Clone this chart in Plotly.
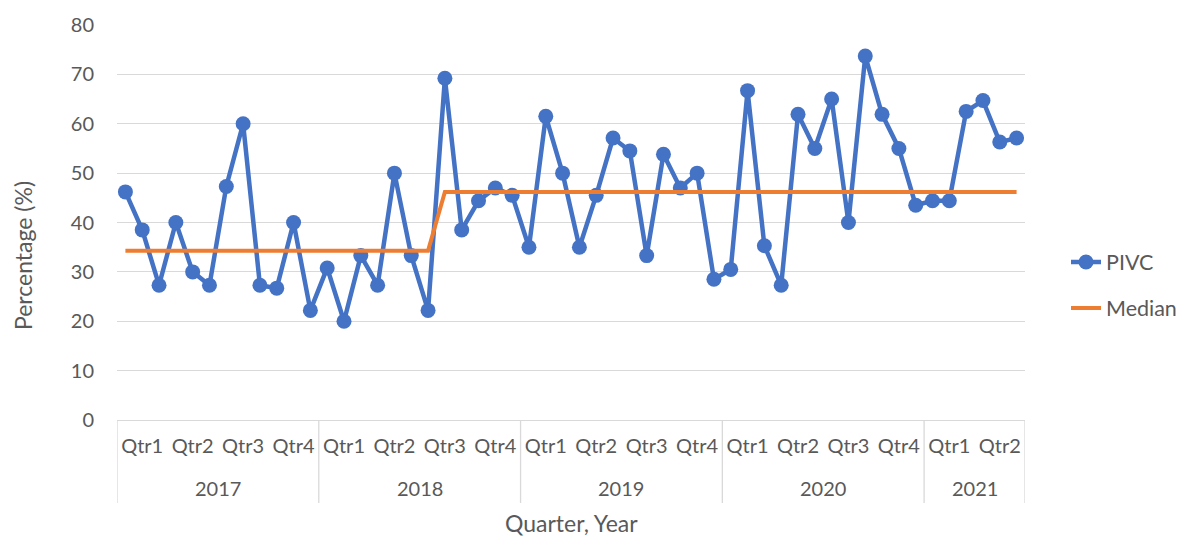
import plotly.graph_objects as go

# ---- data ----
years = ["2017", "2018", "2019", "2020", "2021"]
quarters = ["Qtr1", "Qtr2", "Qtr3", "Qtr4"]
quarters_per_year = [4, 4, 4, 4, 2]
pivc = [
    46.2, 38.5, 27.3, 40.0, 30.0, 27.3, 47.3, 60.0, 27.3, 26.7, 40.0, 22.2,   # 2017
    30.8, 20.0, 33.3, 27.3, 50.0, 33.3, 22.2, 69.2, 38.5, 44.4, 47.0, 45.5,   # 2018
    35.0, 61.5, 50.0, 35.0, 45.5, 57.1, 54.5, 33.3, 53.8, 47.0, 50.0, 28.5,   # 2019
    30.5, 66.7, 35.3, 27.3, 61.9, 55.0, 65.0, 40.0, 73.7, 61.9, 55.0, 43.5,   # 2020
    44.4, 44.4, 62.5, 64.7, 56.3, 57.1,                                       # 2021
]
median = [34.3] * 19 + [46.2] * 35
y_ticks = [0, 10, 20, 30, 40, 50, 60, 70, 80]

# ---- styling ----
BLUE = "#4472C4"
ORANGE = "#ED7D31"
GRID = "#D9D9D9"
TXT = "#595959"
FONT = "Lato, 'Open Sans', sans-serif"

W, H = 1186, 536
L, R, T, B = 117, 161, 25, 116
plot_h = H - T - B
plot_w = W - L - R

idx = list(range(len(pivc)))

fig = go.Figure()
fig.add_trace(go.Scatter(
    x=idx, y=pivc, mode="lines+markers", name="PIVC",
    line=dict(color=BLUE, width=4.5),
    marker=dict(color=BLUE, size=15),
    legend="legend",
))
fig.add_trace(go.Scatter(
    x=idx, y=median, mode="lines", name="Median",
    line=dict(color=ORANGE, width=4),
    legend="legend2",
))

# quarter tick positions (centre of each 3-month group)
tickvals, ticktext = [], []
q_i = 0
year_bounds = [-0.5]
for yr, nq in zip(years, quarters_per_year):
    for q in range(nq):
        tickvals.append(q_i * 3 + 1)
        ticktext.append(quarters[q])
        q_i += 1
    year_bounds.append(q_i * 3 - 0.5)

shapes = []
for xb in year_bounds:
    shapes.append(dict(type="line", xref="x", yref="paper", x0=xb, x1=xb,
                       y0=0, y1=-(503 - 420) / plot_h,
                       line=dict(color=GRID, width=1.3)))

annotations = []
for i, yr in enumerate(years):
    annotations.append(dict(
        x=(year_bounds[i] + year_bounds[i + 1]) / 2, xref="x",
        y=-(488 - 420) / plot_h, yref="paper", text=yr, showarrow=False,
        font=dict(family=FONT, size=20, color=TXT), xanchor="center", yanchor="middle"))

# axis titles
annotations.append(dict(
    x=(571 - L) / plot_w, xref="paper", y=-(523 - 420) / plot_h, yref="paper",
    text="Quarter, Year", showarrow=False, font=dict(family=FONT, size=23, color=TXT),
    xanchor="center", yanchor="middle"))
annotations.append(dict(
    x=(23 - L) / plot_w, xref="paper", y=(420 - 256) / plot_h, yref="paper",
    text="Percentage (%)", textangle=-90, showarrow=False,
    font=dict(family=FONT, size=23, color=TXT), xanchor="center", yanchor="middle"))

leg_x = (W - 1 - L) / plot_w

fig.update_layout(
    width=W, height=H,
    margin=dict(l=L, r=R, t=T, b=B, pad=0, autoexpand=False),
    paper_bgcolor="white", plot_bgcolor="white",
    font=dict(family=FONT, color=TXT),
    xaxis=dict(
        range=[-0.5, len(pivc) - 0.5], tickmode="array", tickvals=tickvals, ticktext=ticktext,
        showgrid=False, zeroline=False, showline=True, linecolor=GRID, linewidth=1.3,
        ticks="", tickfont=dict(family=FONT, size=20, color=TXT), ticklabelstandoff=8,
    ),
    yaxis=dict(
        range=[0, 80], tickmode="array", tickvals=y_ticks,
        showgrid=True, gridcolor=GRID, gridwidth=1.3, zeroline=False, showline=False,
        ticks="", tickfont=dict(family=FONT, size=20, color=TXT), ticklabelstandoff=22,
    ),
    legend=dict(x=(1066 - L) / plot_w, y=(420 - 262) / plot_h, xanchor="left", yanchor="middle",
                font=dict(family=FONT, size=21.5, color=TXT), bgcolor="rgba(0,0,0,0)"),
    legend2=dict(x=(1066 - L) / plot_w, y=(420 - 308) / plot_h, xanchor="left", yanchor="middle",
                 font=dict(family=FONT, size=21.5, color=TXT), bgcolor="rgba(0,0,0,0)"),
    shapes=shapes,
    annotations=annotations,
    showlegend=True,
)

fig.write_html("out.html", config={"displayModeBar": False},
               post_script="document.body.style.margin='0px';")
